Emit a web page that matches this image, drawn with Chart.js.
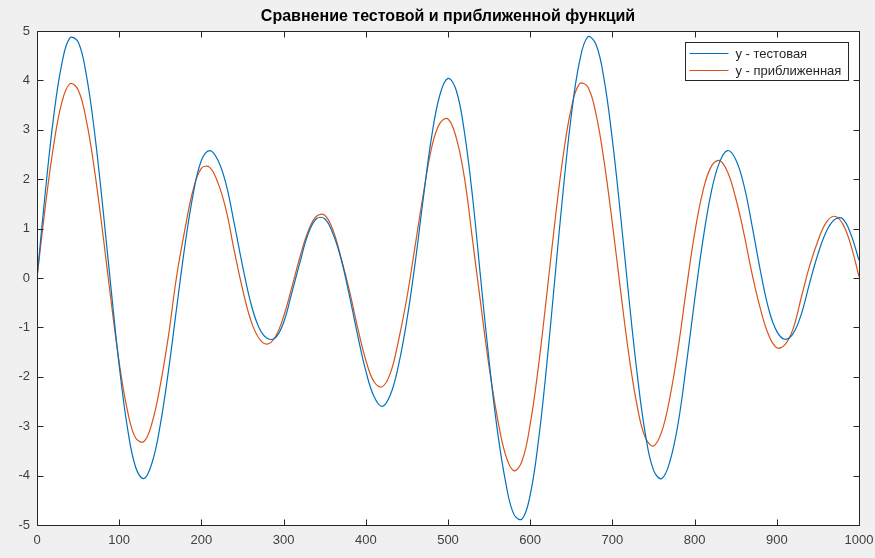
<!DOCTYPE html>
<html lang="ru">
<head>
    <meta charset="UTF-8">
    <title>Сравнение функций</title>
    <script src="https://cdn.jsdelivr.net/npm/chart.js@4/dist/chart.umd.min.js"></script>
    <style>
        * { margin: 0; padding: 0; }
        body { background: #f0f0f0; }
        #wrap { position: relative; width: 875px; height: 558px; }
    </style>
</head>
<body>
<div id="wrap"><canvas id="myChart" width="875" height="558"></canvas></div>
<script>
    var titleText = "Сравнение тестовой и приближенной функций";
    var seriesNames = ["y - тестовая", "y - приближенная"];

    var xValues = [0, 10, 20, 30, 40, 50, 60, 70, 80, 90,
        100, 110, 120, 130, 140, 150, 160, 170, 180, 190,
        200, 210, 220, 230, 240, 250, 260, 270, 280, 290,
        300, 310, 320, 330, 340, 350, 360, 370, 380, 390,
        400, 410, 420, 430, 440, 450, 460, 470, 480, 490,
        500, 510, 520, 530, 540, 550, 560, 570, 580, 590,
        600, 610, 620, 630, 640, 650, 660, 670, 680, 690,
        700, 710, 720, 730, 740, 750, 760, 770, 780, 790,
        800, 810, 820, 830, 840, 850, 860, 870, 880, 890,
        900, 910, 920, 930, 940, 950, 960, 970, 980, 990, 1000];

    // y - тестовая
    var yTest = [0, 1.72, 3.23, 4.32, 4.86, 4.78, 4.11, 2.95, 1.44, -0.20,
        -1.77, -3.03, -3.83, -4.06, -3.74, -2.97, -1.87, -0.59, 0.66, 1.70,
        2.38, 2.58, 2.39, 1.90, 1.10, 0.25, -0.50, -1.00, -1.22, -1.21,
        -0.90, -0.30, 0.32, 0.90, 1.20, 1.20, 0.90, 0.38, -0.35, -1.15,
        -1.88, -2.40, -2.60, -2.36, -1.75, -0.85, 0.30, 1.62, 2.85, 3.70,
        4.04, 3.80, 2.95, 1.62, -0.05, -1.68, -3.08, -4.12, -4.78, -4.88,
        -4.39, -3.30, -1.78, -0.01, 1.75, 3.29, 4.38, 4.88, 4.73, 4.01,
        2.79, 1.26, -0.39, -1.92, -3.15, -3.89, -4.06, -3.71, -2.94, -1.75,
        -0.45, 0.75, 1.72, 2.33, 2.58, 2.40, 1.88, 1.05, 0.15, -0.62,
        -1.08, -1.24, -1.12, -0.72, -0.10, 0.48, 0.93, 1.18, 1.20, 0.89, 0.36];

    // y - приближенная
    var yApprox = [0, 1.43, 2.66, 3.54, 3.93, 3.81, 3.19, 2.18, 0.91, -0.45,
        -1.71, -2.68, -3.24, -3.31, -2.93, -2.17, -1.16, 0.05, 0.99, 1.79,
        2.22, 2.24, 1.93, 1.38, 0.55, -0.22, -0.85, -1.22, -1.34, -1.19,
        -0.78, -0.19, 0.43, 0.95, 1.25, 1.27, 0.97, 0.40, -0.25, -1.00,
        -1.66, -2.10, -2.20, -1.92, -1.25, -0.40, 0.65, 1.70, 2.63, 3.13,
        3.22, 2.84, 2.03, 0.75, -0.55, -1.80, -2.82, -3.58, -3.90, -3.71,
        -2.96, -1.79, -0.36, 1.13, 2.46, 3.44, 3.93, 3.87, 3.32, 2.35,
        1.10, -0.26, -1.55, -2.58, -3.23, -3.40, -3.11, -2.41, -1.42, -0.22,
        0.90, 1.75, 2.25, 2.38, 2.15, 1.62, 0.90, 0.08, -0.62, -1.15,
        -1.41, -1.35, -1.02, -0.38, 0.25, 0.75, 1.12, 1.25, 1.10, 0.67, 0.03];

    var colors = ["#0072BD", "#D95319"];

    function toPoints(ys) {
        var pts = [];
        for (var i = 0; i < xValues.length; i++) {
            pts.push({x: xValues[i], y: ys[i]});
        }
        return pts;
    }

    // фон, рамка осей, засечки внутрь, заголовок и легенда в стиле MATLAB
    var matlabLook = {
        id: 'matlabLook',
        beforeDraw: function (chart) {
            var c = chart.ctx, a = chart.chartArea;
            c.save();
            c.fillStyle = '#f0f0f0';
            c.fillRect(0, 0, chart.width, chart.height);
            c.fillStyle = '#ffffff';
            c.fillRect(a.left, a.top, a.right - a.left, a.bottom - a.top);
            c.restore();
        },
        afterDraw: function (chart) {
            var c = chart.ctx, a = chart.chartArea;
            var xs = chart.scales.x, ys = chart.scales.y;
            var L = Math.round(a.left) + 0.5, R = Math.round(a.right) + 0.5;
            var T = Math.round(a.top) + 0.5, B = Math.round(a.bottom) + 0.5;
            c.save();
            c.strokeStyle = '#262626';
            c.lineWidth = 1;
            c.beginPath();
            c.rect(L, T, R - L, B - T);
            xs.ticks.forEach(function (t) {
                var px = Math.round(xs.getPixelForValue(t.value)) + 0.5;
                c.moveTo(px, B); c.lineTo(px, B - 6);
                c.moveTo(px, T); c.lineTo(px, T + 6);
            });
            ys.ticks.forEach(function (t) {
                var py = Math.round(ys.getPixelForValue(t.value)) + 0.5;
                c.moveTo(L, py); c.lineTo(L + 6, py);
                c.moveTo(R, py); c.lineTo(R - 6, py);
            });
            c.stroke();

            // заголовок
            c.fillStyle = '#000000';
            c.font = 'bold 16px "Liberation Sans", Arial, sans-serif';
            c.textAlign = 'center';
            c.textBaseline = 'middle';
            c.fillText(titleText, (a.left + a.right) / 2, 17);

            // легенда
            var bx = 685.5, by = 42.5, bw = 163, bh = 38;
            c.fillStyle = '#ffffff';
            c.fillRect(bx, by, bw, bh);
            c.strokeStyle = '#262626';
            c.strokeRect(bx, by, bw, bh);
            c.font = '13px "Liberation Sans", Arial, sans-serif';
            c.textAlign = 'left';
            for (var i = 0; i < seriesNames.length; i++) {
                var ly = by + 11 + i * 17;
                c.strokeStyle = colors[i];
                c.lineWidth = 1.2;
                c.beginPath();
                c.moveTo(bx + 4, ly); c.lineTo(bx + 43, ly);
                c.stroke();
                c.fillStyle = '#262626';
                c.fillText(seriesNames[i], bx + 50, ly + 1);
            }
            c.restore();
        }
    };

    var ctx = document.getElementById('myChart').getContext("2d");
    var myChart = new Chart(ctx, {
        type: 'line',
        data: {
            datasets: [{
                label: seriesNames[0],
                data: toPoints(yTest),
                borderColor: colors[0],
                borderWidth: 1.2,
                pointRadius: 0,
                tension: 0.4,
                fill: false
            }, {
                label: seriesNames[1],
                data: toPoints(yApprox),
                borderColor: colors[1],
                borderWidth: 1.2,
                pointRadius: 0,
                tension: 0.4,
                fill: false
            }]
        },
        options: {
            responsive: false,
            animation: false,
            layout: {padding: {left: 0, right: 16, top: 31, bottom: 0}},
            plugins: {
                legend: {display: false},
                tooltip: {enabled: false}
            },
            scales: {
                x: {
                    type: 'linear',
                    min: 0, max: 1000,
                    afterFit: function (s) {
                        s.height = 33;
                        s.paddingLeft = 0;
                        s.paddingRight = 0;
                    },
                    grid: {display: false, drawTicks: false},
                    border: {display: false},
                    ticks: {
                        stepSize: 100,
                        padding: 8,
                        color: '#404040',
                        maxRotation: 0,
                        callback: function (v) { return String(v); },
                        font: {family: '"Liberation Sans", Arial, sans-serif', size: 13}
                    }
                },
                y: {
                    min: -5, max: 5,
                    afterFit: function (s) {
                        s.width = 37;
                        s.paddingTop = 0;
                        s.paddingBottom = 0;
                    },
                    grid: {display: false, drawTicks: false},
                    border: {display: false},
                    ticks: {
                        stepSize: 1,
                        padding: 7,
                        color: '#404040',
                        font: {family: '"Liberation Sans", Arial, sans-serif', size: 13}
                    }
                }
            }
        },
        plugins: [matlabLook]
    });
</script>
</body>
</html>
